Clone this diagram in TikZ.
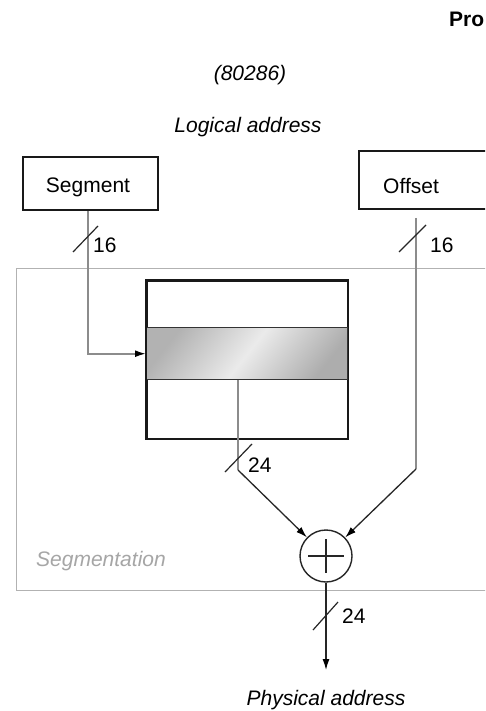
\documentclass[tikz,border=0pt]{standalone}
\usepackage{fontspec}
\setmainfont{Liberation Sans}
\usetikzlibrary{arrows.meta}
\begin{document}
\begin{tikzpicture}[x=1pt,y=-1pt,
  font=\fontsize{21}{25}\selectfont,
  box/.style={draw=black!90, line width=1.6pt, inner sep=0pt, fill=white},
  region/.style={draw=black!30, line width=1.2pt, inner sep=0pt},
  feed/.style={draw=black!45, line width=1.8pt},
  link/.style={draw=black!85, line width=1.3pt},
  tip/.style={-{Latex[length=11pt,width=7pt,color=black]}},
  slash/.style={draw=black!85, line width=1.2pt},
  txt/.style={inner sep=0pt, anchor=base},
  lbl/.style={inner sep=0pt, anchor=base west},
  titletext/.style={inner sep=0pt, anchor=base, font=\fontsize{21}{25}\selectfont\itshape},
]
\path[use as bounding box, clip] (0,0) rectangle (485,711);
\fill[white] (0,0) rectangle (485,711);

% page header and titles
\node[lbl, font=\fontsize{21}{25}\selectfont\bfseries] (head) at (449,27) {Pro};
\node[titletext] (cpu) at (250,81) {(80286)};
\node[titletext] (logical) at (248,133) {Logical address};

% segmentation unit outline
\node[region, anchor=north west, minimum width=520, minimum height=322] (segarea) at (16,268) {};
\node[lbl, text=black!35, font=\fontsize{21}{25}\selectfont\itshape] (segname) at (36,566) {Segmentation};

% address inputs
\node[box, minimum width=135, minimum height=53] (seg) at (90.5,183.5) {};
\node[txt] (segtext) at (88,193) {Segment};
\node[box, anchor=north west, minimum width=160, minimum height=58] (offset) at (358,150) {};
\node[lbl] (offtext) at (383,194) {Offset};

% descriptor table with the selected entry
\node[box, anchor=north west, minimum width=201, minimum height=158] (tbl) at (146,280) {};
\node[draw=black!80, line width=1.4pt, inner sep=0pt, anchor=north west,
      minimum width=201, minimum height=52,
      left color=black!30, right color=black!32, middle color=black!8,
      shading angle=52] (row) at (146,327) {};
\draw[draw=black!90, line width=1.6pt] (tbl.north west) rectangle (tbl.south east);

% adder
\node[circle, draw=black!85, line width=1.4pt, minimum size=52, inner sep=0pt, fill=white] (sum) at (326,556) {};
\draw[link] (sum.center) +(-18,0) -- +(18,0) (sum.center) +(0,-17) -- +(0,17);

% bend points
\coordinate (sbend) at (88,353);
\coordinate (tc) at (238,470);
\coordinate (otop) at (416,218);
\coordinate (oc) at (416,469);
\coordinate (out) at (326,670);

% connectors
\draw[feed, tip] (seg.south -| sbend) |- (row.west);
\draw[feed] (row.south -| tc) -- (tc);
\draw[link, tip] (tc) -- (sum);
\draw[feed] (otop) -- (oc);
\draw[link, tip] (oc) -- (sum);
\draw[link, tip] (sum) -- (out);

% bus width marks
\coordinate (m1) at (87,239);
\coordinate (m2) at (414,239);
\coordinate (m3) at (238,458);
\coordinate (m4) at (326,616);
\draw[slash] (m1) +(-14,13) -- +(11,-13);
\draw[slash] (m2) +(-15,13) -- +(12,-14);
\draw[slash] (m3) +(-13,14) -- +(14,-14);
\draw[slash] (m4) +(-13,14) -- +(12,-14);
\node[lbl] (w1) at (93,252) {16};
\node[lbl] (w2) at (430,252) {16};
\node[lbl] (w3) at (248,472) {24};
\node[lbl] (w4) at (342,623) {24};

\node[titletext] (physical) at (326,705) {Physical address};
\end{tikzpicture}
\end{document}
